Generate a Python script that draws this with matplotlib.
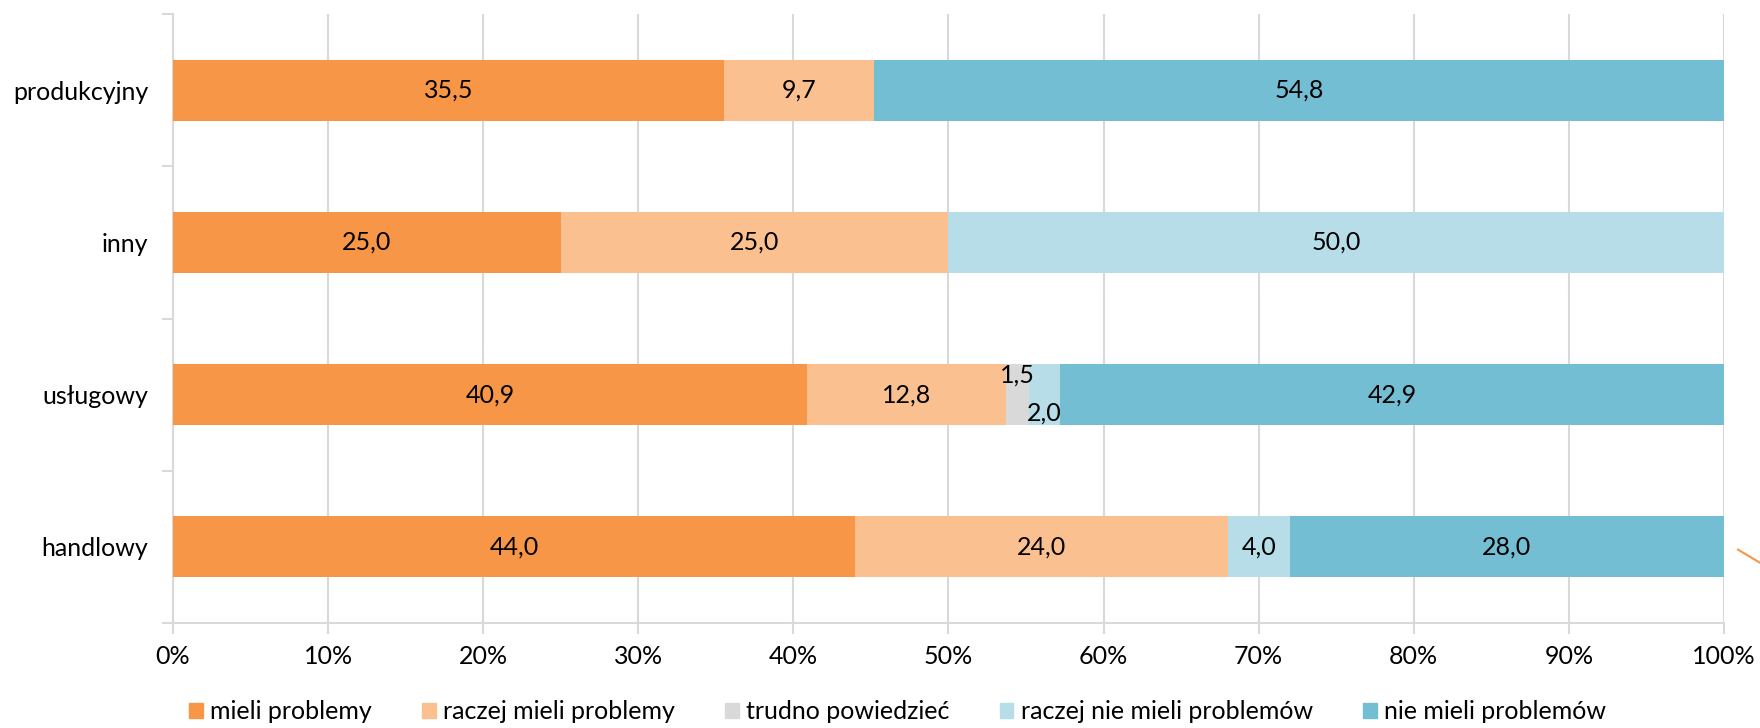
import matplotlib.pyplot as plt
from matplotlib.lines import Line2D
import numpy as np

plt.rcParams['font.family'] = ['Lato', 'DejaVu Sans']

categories = ['handlowy', 'usługowy', 'inny', 'produkcyjny']
series = ['mieli problemy', 'raczej mieli problemy', 'trudno powiedzieć',
          'raczej nie mieli problemów', 'nie mieli problemów']
values = {
    'mieli problemy':             [44.0, 40.9, 25.0, 35.5],
    'raczej mieli problemy':      [24.0, 12.8, 25.0, 9.7],
    'trudno powiedzieć':          [0.0, 1.5, 0.0, 0.0],
    'raczej nie mieli problemów': [4.0, 2.0, 50.0, 0.0],
    'nie mieli problemów':        [28.0, 42.9, 0.0, 54.8],
}
colors = ['#F79646', '#FAC090', '#D9D9D9', '#B7DEE8', '#73BED3']

FS = 18

fig = plt.figure(figsize=(17.6, 7.28), dpi=100)
ax = fig.add_axes([0.0983, 0.1442, 0.8812, 0.8366])

y = np.arange(len(categories))
left = np.zeros(len(categories))
for name, col in zip(series, colors):
    vals = np.array(values[name])
    ax.barh(y, vals, left=left, height=0.4, color=col, label=name, zorder=3)
    for i, v in enumerate(vals):
        if v <= 0:
            continue
        yy = y[i]
        # tiny segments in the usługowy row get staggered labels
        if name == 'trudno powiedzieć':
            yy += 0.13
        elif name == 'raczej nie mieli problemów' and v < 3:
            yy -= 0.12
        ax.text(left[i] + v / 2, yy, f'{v:.1f}'.replace('.', ','),
                ha='center', va='center', fontsize=FS, color='black', zorder=4)
    left += vals

ax.set_xlim(0, 100)
ax.set_ylim(-0.5, 3.5)
ax.set_xticks(np.arange(0, 101, 10))
ax.set_xticklabels([f'{t}%' for t in range(0, 101, 10)], fontsize=FS)
ax.set_yticks(y)
ax.set_yticklabels(categories, fontsize=FS)
ax.set_yticks(np.arange(-0.5, 3.6, 1), minor=True)
ax.tick_params(axis='y', which='major', length=0, pad=18)
ax.tick_params(axis='y', which='minor', length=8, color='#D9D9D9', width=1.5)
ax.tick_params(axis='x', length=8, color='#D9D9D9', width=1.5, pad=8)
ax.grid(axis='x', color='#D9D9D9', linewidth=1.5, zorder=0)
for s in ['top', 'right']:
    ax.spines[s].set_visible(False)
for s in ['left', 'bottom']:
    ax.spines[s].set_color('#D9D9D9')
    ax.spines[s].set_linewidth(1.5)

handles = [plt.Rectangle((0, 0), 1, 1, color=c) for c in colors]
fig.legend(handles, series, loc='center', bbox_to_anchor=(0.51, 0.022),
           ncol=5, frameon=False, fontsize=FS, handlelength=0.55,
           handleheight=0.55, handletextpad=0.3, columnspacing=2.0)

fig.add_artist(Line2D([0.9875, 1.0], [0.245, 0.227], color='#F79646',
                      linewidth=1.5, transform=fig.transFigure))

fig.savefig('out.png', dpi=100)
